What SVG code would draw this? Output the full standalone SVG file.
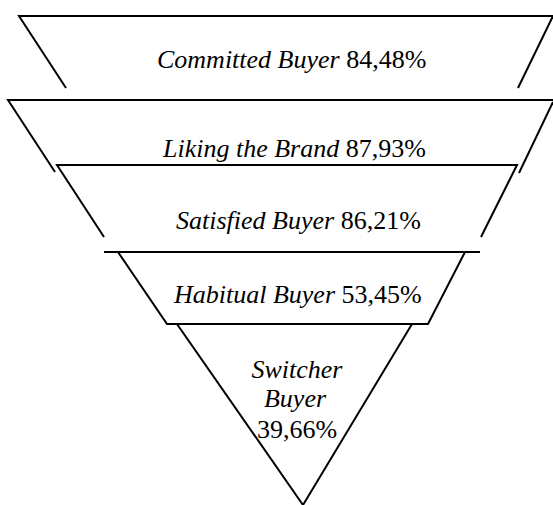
<svg xmlns="http://www.w3.org/2000/svg" width="553" height="505" viewBox="0 0 553 505">
<style>
.ln{fill:none;stroke:#000;stroke-width:2;stroke-linejoin:miter}
text{font-family:"Liberation Serif","Times New Roman",serif;font-size:26px;fill:#000}
.i{font-style:italic}
</style>
<rect width="553" height="505" fill="#fff"/>
<g id="committed">
<polyline class="ln" points="66,88 19,16 553,16"/>
<line class="ln" x1="553" y1="16" x2="518" y2="88"/>
<text x="157" y="68"><tspan class="i">Committed Buyer</tspan> 84,48%</text>
</g>
<g id="liking">
<polyline class="ln" points="55,172 8,100 553,100"/>
<line class="ln" x1="553" y1="102" x2="519" y2="173"/>
<text x="163" y="157"><tspan class="i">Liking the Brand</tspan> 87,93%</text>
</g>
<g id="satisfied">
<polyline class="ln" points="104,237 57,165 517,165 481,237"/>
<line class="ln" x1="104" y1="252" x2="480" y2="252"/>
<text x="176" y="229"><tspan class="i">Satisfied Buyer</tspan> 86,21%</text>
</g>
<g id="habitual">
<polygon class="ln" points="118,252 465,252 428,324 167,324"/>
<text x="174" y="303"><tspan class="i">Habitual Buyer</tspan> 53,45%</text>
</g>
<g id="switcher">
<polygon class="ln" points="177,324 412,324 303,505"/>
<text x="297" y="378" text-anchor="middle" class="i">Switcher</text>
<text x="295" y="407" text-anchor="middle" class="i">Buyer</text>
<text x="297" y="438" text-anchor="middle">39,66%</text>
</g>
<g id="connectors"/>
</svg>
